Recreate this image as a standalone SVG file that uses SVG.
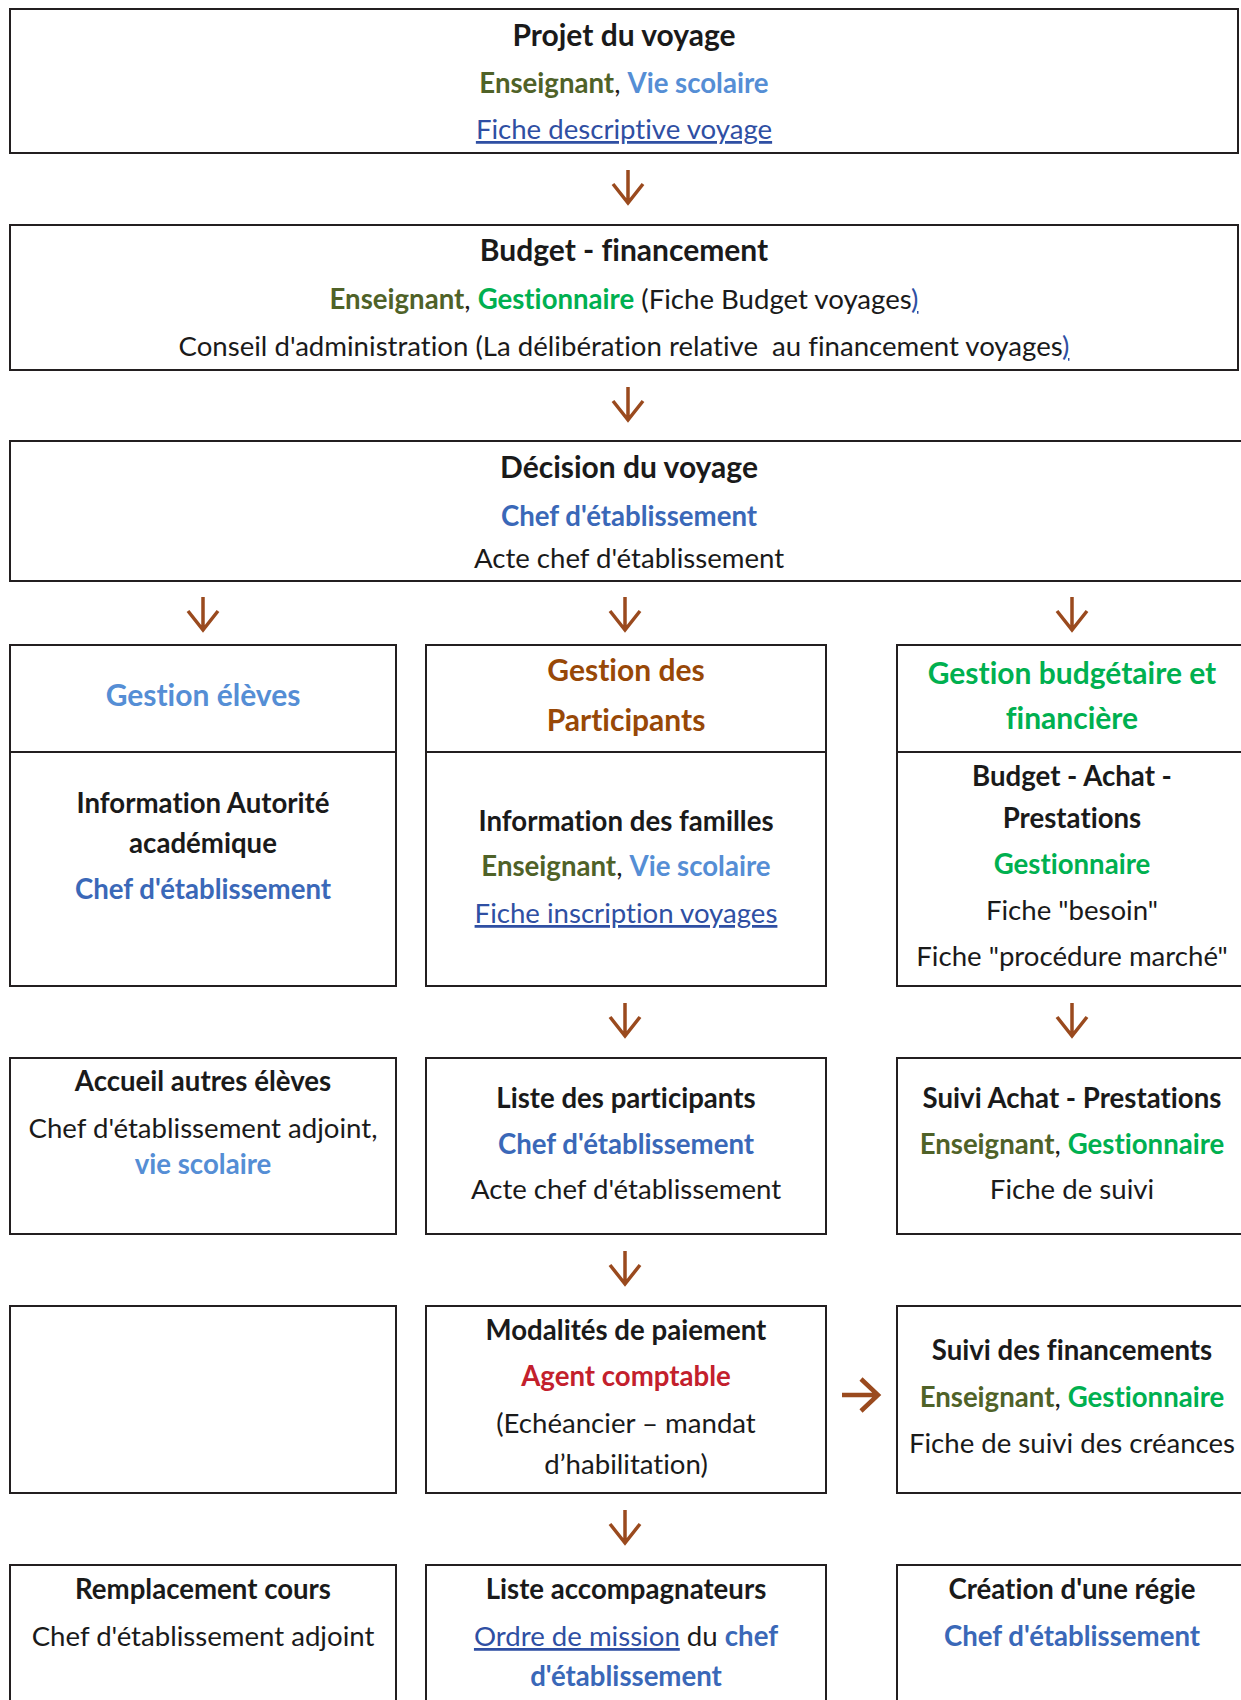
<svg xmlns="http://www.w3.org/2000/svg" width="1241" height="1700" viewBox="0 0 1241 1700">
<style>
  text { font-family: Lato, "Open Sans", "Liberation Sans", sans-serif; text-anchor: middle; fill: #1a1a1a; font-variant-ligatures: none; }
  .box { fill: #ffffff; stroke: #231f20; stroke-width: 2; }
  .h { font-weight: 700; font-size: 30px; }
  .t { font-weight: 700; font-size: 27.6px; }
  .r { font-weight: 400; font-size: 27.6px; }
  .ens { fill: #4f6228; font-weight: 700; }
  .vie { fill: #558ed5; font-weight: 700; }
  .ges { fill: #00b050; font-weight: 700; }
  .chef { fill: #3a68b8; font-weight: 700; }
  .lnk { fill: #2f4fa3; text-decoration: underline; }
  .brn { fill: #984807; font-weight: 700; }
  .red { fill: #c3202c; font-weight: 700; }
  .arrow { fill: none; stroke: #9a4a1e; stroke-width: 3.5; stroke-linejoin: miter; }
  .arrow-r { fill: none; stroke: #9a4a1e; stroke-width: 4.5; stroke-linejoin: miter; }
</style>
<defs>
  <path id="down" class="arrow" d="M0 0 V33 M-15 14 L0 33 L15 14"/>
</defs>
<rect width="1241" height="1700" fill="#ffffff"/>

<g id="projet">
  <rect class="box" x="10" y="9" width="1228" height="144"/>
  <text class="h" x="624" y="46">Projet du voyage</text>
  <text class="r" x="624" y="93"><tspan class="ens">Enseignant</tspan>, <tspan class="vie">Vie scolaire</tspan></text>
  <text class="r" x="624" y="139"><tspan class="lnk">Fiche descriptive voyage</tspan></text>
</g>

<g id="budget">
  <rect class="box" x="10" y="225" width="1228" height="145"/>
  <text class="h" x="624" y="261">Budget - financement</text>
  <text class="r" x="624" y="309"><tspan class="ens">Enseignant</tspan>, <tspan class="ges">Gestionnaire</tspan> (Fiche Budget voyages<tspan class="lnk">)</tspan></text>
  <text class="r" x="624" y="356" xml:space="preserve">Conseil d'administration (La délibération relative  au financement voyages<tspan class="lnk">)</tspan></text>
</g>

<g id="decision">
  <rect class="box" x="10" y="441" width="1240" height="140"/>
  <text class="h" x="629" y="478">Décision du voyage</text>
  <text class="t" x="629" y="526"><tspan class="chef">Chef d'établissement</tspan></text>
  <text class="r" x="629" y="568">Acte chef d'établissement</text>
</g>

<g id="gestion-eleves">
  <rect class="box" x="10" y="645" width="386" height="107"/>
  <text class="h" x="203" y="706"><tspan class="vie">Gestion élèves</tspan></text>
</g>
<g id="info-autorite">
  <rect class="box" x="10" y="752" width="386" height="234"/>
  <text class="t" x="203" y="813">Information Autorité</text>
  <text class="t" x="203" y="853">académique</text>
  <text class="t" x="203" y="899"><tspan class="chef">Chef d'établissement</tspan></text>
</g>

<g id="gestion-participants">
  <rect class="box" x="426" y="645" width="400" height="107"/>
  <text class="h" x="626" y="681"><tspan class="brn">Gestion des</tspan></text>
  <text class="h" x="626" y="731"><tspan class="brn">Participants</tspan></text>
</g>
<g id="info-familles">
  <rect class="box" x="426" y="752" width="400" height="234"/>
  <text class="t" x="626" y="831">Information des familles</text>
  <text class="r" x="626" y="876"><tspan class="ens">Enseignant</tspan>, <tspan class="vie">Vie scolaire</tspan></text>
  <text class="r" x="626" y="923"><tspan class="lnk">Fiche inscription voyages</tspan></text>
</g>

<g id="gestion-budgetaire">
  <rect class="box" x="897" y="645" width="353" height="107"/>
  <text class="h" x="1072" y="684"><tspan class="ges">Gestion budgétaire et</tspan></text>
  <text class="h" x="1072" y="729"><tspan class="ges">financière</tspan></text>
</g>
<g id="budget-achat">
  <rect class="box" x="897" y="752" width="353" height="234"/>
  <text class="t" x="1072" y="786">Budget - Achat -</text>
  <text class="t" x="1072" y="828">Prestations</text>
  <text class="t" x="1072" y="874"><tspan class="ges">Gestionnaire</tspan></text>
  <text class="r" x="1072" y="920">Fiche "besoin"</text>
  <text class="r" x="1072" y="966">Fiche "procédure marché"</text>
</g>

<g id="accueil">
  <rect class="box" x="10" y="1058" width="386" height="176"/>
  <text class="t" x="203" y="1091">Accueil autres élèves</text>
  <text class="r" x="203" y="1138">Chef d'établissement adjoint,</text>
  <text class="t" x="203" y="1174"><tspan class="vie">vie scolaire</tspan></text>
</g>
<g id="liste-participants">
  <rect class="box" x="426" y="1058" width="400" height="176"/>
  <text class="t" x="626" y="1108">Liste des participants</text>
  <text class="t" x="626" y="1154"><tspan class="chef">Chef d'établissement</tspan></text>
  <text class="r" x="626" y="1199">Acte chef d'établissement</text>
</g>
<g id="suivi-achat">
  <rect class="box" x="897" y="1058" width="353" height="176"/>
  <text class="t" x="1072" y="1108">Suivi Achat - Prestations</text>
  <text class="r" x="1072" y="1154"><tspan class="ens">Enseignant</tspan>, <tspan class="ges">Gestionnaire</tspan></text>
  <text class="r" x="1072" y="1199">Fiche de suivi</text>
</g>

<g id="vide">
  <rect class="box" x="10" y="1306" width="386" height="187"/>
</g>
<g id="modalites">
  <rect class="box" x="426" y="1306" width="400" height="187"/>
  <text class="t" x="626" y="1340">Modalités de paiement</text>
  <text class="t" x="626" y="1386"><tspan class="red">Agent comptable</tspan></text>
  <text class="r" x="626" y="1433">(Echéancier – mandat</text>
  <text class="r" x="626" y="1474">d’habilitation)</text>
</g>
<g id="suivi-financements">
  <rect class="box" x="897" y="1306" width="353" height="187"/>
  <text class="t" x="1072" y="1360">Suivi des financements</text>
  <text class="r" x="1072" y="1407"><tspan class="ens">Enseignant</tspan>, <tspan class="ges">Gestionnaire</tspan></text>
  <text class="r" x="1072" y="1453">Fiche de suivi des créances</text>
</g>

<g id="remplacement">
  <rect class="box" x="10" y="1565" width="386" height="150"/>
  <text class="t" x="203" y="1599">Remplacement cours</text>
  <text class="r" x="203" y="1646">Chef d'établissement adjoint</text>
</g>
<g id="accompagnateurs">
  <rect class="box" x="426" y="1565" width="400" height="150"/>
  <text class="t" x="626" y="1599">Liste accompagnateurs</text>
  <text class="r" x="626" y="1646"><tspan class="lnk">Ordre de mission</tspan> du <tspan class="chef">chef</tspan></text>
  <text class="t" x="626" y="1686"><tspan class="chef">d'établissement</tspan></text>
</g>
<g id="regie">
  <rect class="box" x="897" y="1565" width="353" height="150"/>
  <text class="t" x="1072" y="1599">Création d'une régie</text>
  <text class="t" x="1072" y="1646"><tspan class="chef">Chef d'établissement</tspan></text>
</g>

<g id="connectors">
  <use href="#down" x="628" y="170"/>
  <use href="#down" x="628" y="387"/>
  <use href="#down" x="203" y="597"/>
  <use href="#down" x="625" y="597"/>
  <use href="#down" x="1072" y="597"/>
  <use href="#down" x="625" y="1003"/>
  <use href="#down" x="1072" y="1003"/>
  <use href="#down" x="625" y="1251"/>
  <use href="#down" x="625" y="1510"/>
  <path class="arrow-r" d="M842 1395 H878 M861 1379 L878 1395 L861 1411"/>
</g>
</svg>
